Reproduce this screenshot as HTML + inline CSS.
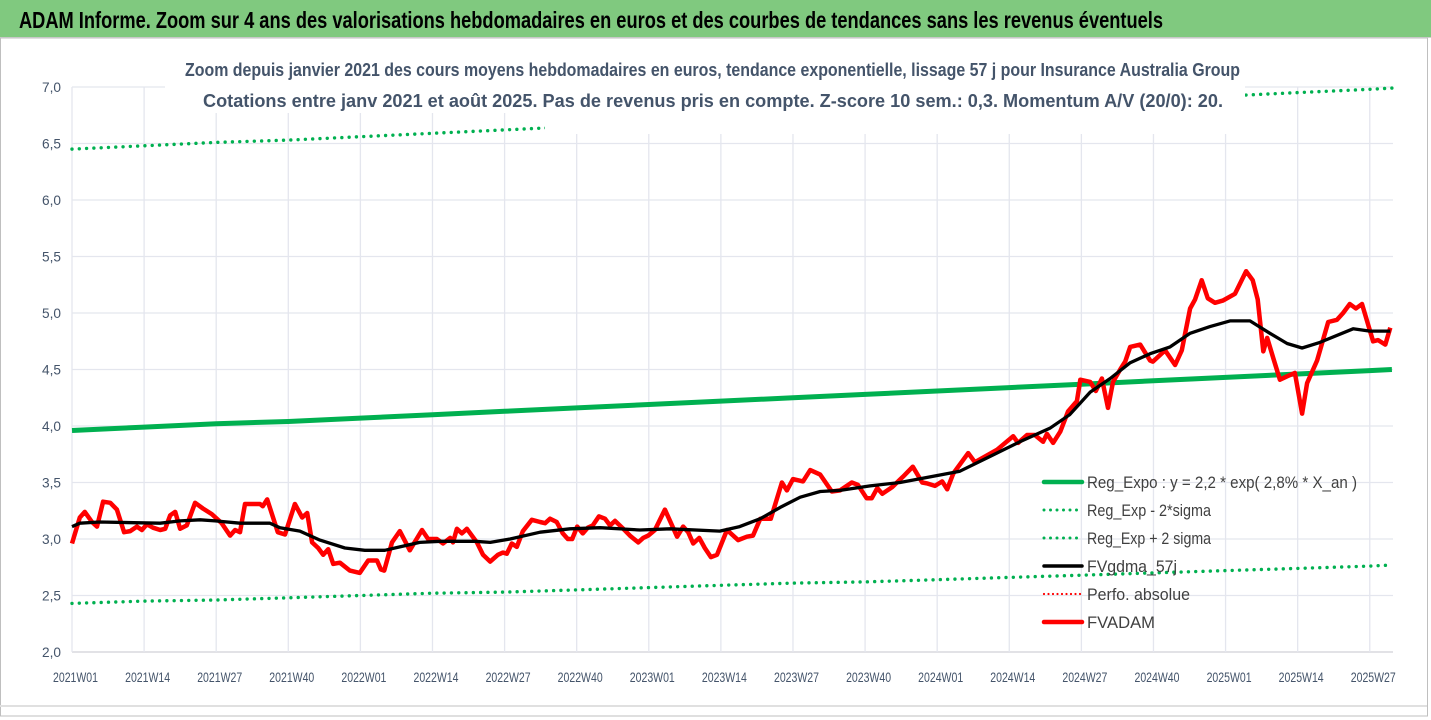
<!DOCTYPE html>
<html><head><meta charset="utf-8"><style>
body{margin:0;background:#fff;}
svg{display:block;font-family:"Liberation Sans",sans-serif;}
</style></head><body>
<svg id="c" width="1431" height="720" viewBox="0 0 1431 720">
<rect x="0" y="0" width="1431" height="720" fill="#fff"/>
<rect x="0" y="0" width="1431" height="37" fill="#80c97f"/>
<line x1="0" y1="37.5" x2="1431" y2="37.5" stroke="#d0d0d0"/>
<text x="19" y="28" font-weight="bold" font-size="23" fill="#000" textLength="1144" lengthAdjust="spacingAndGlyphs">ADAM Informe. Zoom sur 4 ans des valorisations hebdomadaires en euros et des courbes de tendances sans les revenus éventuels</text>
<rect x="0.5" y="38" width="1427" height="678" fill="none" stroke="#bfbfbf"/>
<line x1="0" y1="706" x2="1427" y2="706" stroke="#e0e0e0" stroke-width="2"/>
<g id="grid"></g>
<g id="yaxis"></g>
<g id="xaxis"></g>
<g id="series"></g>
<g id="titlebox">
<rect x="165" y="50" width="1080" height="63" fill="#fff"/>
<rect x="545" y="112" width="700" height="22" fill="#fff"/>
<text x="185" y="76" font-weight="bold" font-size="18" fill="#44546a" textLength="1055" lengthAdjust="spacingAndGlyphs">Zoom depuis janvier 2021 des cours moyens hebdomadaires en euros, tendance exponentielle, lissage 57 j pour Insurance Australia Group</text>
<text x="203" y="107" font-weight="bold" font-size="18" fill="#44546a" textLength="1020" lengthAdjust="spacingAndGlyphs">Cotations entre janv 2021 et août 2025. Pas de revenus pris en compte. Z-score 10 sem.: 0,3. Momentum A/V (20/0): 20.</text>
</g>
<g id="series2"></g>
<g id="legend"></g>
</svg>
<script>
const tickWeeks=[0,13,26,39,52,65,78,91,104,117,130,143,156,169,182,195,208,221,234];
const tickLabels=["2021W01","2021W14","2021W27","2021W40","2022W01","2022W14","2022W27","2022W40","2023W01","2023W14","2023W27","2023W40","2024W01","2024W14","2024W27","2024W40","2025W01","2025W14","2025W27"];
const yTicks=[2.0,2.5,3.0,3.5,4.0,4.5,5.0,5.5,6.0,6.5,7.0];
const trendWeeks=[0,13,26,39,52,65,78,91,104,117,130,143,156,169,182,195,208,221,234,238];
const regValues=[3.96,3.99,4.02,4.04,4.07,4.10,4.13,4.16,4.19,4.22,4.25,4.28,4.31,4.34,4.37,4.40,4.43,4.46,4.49,4.50];
const lowerValues=[2.43,2.45,2.46,2.48,2.50,2.52,2.53,2.55,2.57,2.59,2.61,2.62,2.64,2.66,2.68,2.70,2.72,2.74,2.76,2.77];
const upperValues=[6.45,6.48,6.51,6.53,6.56,6.59,6.62,6.65,6.68,6.71,6.74,6.77,6.80,6.83,6.86,6.89,6.92,6.95,6.98,6.99];
const priceWeeks=[0,1.4,2.3,3.6,4.5,5.6,6.9,8.1,9.4,10.5,11.7,12.6,13.5,14.6,15.9,16.8,17.7,18.6,19.5,20.7,22.2,23.6,25.2,27,28.5,29.4,30.3,31.2,33.9,34.4,35.2,37.1,38.4,40.2,41.5,42.4,43.3,44.4,45.3,46.2,47.1,48.3,50.1,51.9,53.4,55,55.7,56.3,57.7,59.1,60.9,63.1,64.2,65.8,66.9,68.2,68.7,69.4,70.3,71.2,73,74.1,75.4,76.8,77.7,78.4,79.3,80.2,81.3,82.9,84.4,85.3,86.2,87.4,88.5,89.4,90.2,91.1,92.1,93,93.9,95,96.1,97,97.9,99.2,100.6,102.1,103,103.9,105.1,106.9,109.1,110.2,111.1,112,113.1,114.1,115.2,116.3,118.1,120.1,121.7,122.8,124.1,126,128,128.9,130,131.8,133.1,134.9,137,138.5,140.6,141.7,143.3,144.2,145.2,146.1,147.9,149.8,151.6,153.3,154.3,155.6,156.9,157.8,158.9,161.6,162.8,165,166.8,169.7,170.6,172.2,173.6,175.1,175.8,176.9,178.2,179.6,181.2,181.8,183.6,184.6,185.7,186.8,187.7,189,189.9,190.8,192.6,194.4,194.9,197.1,198.9,200.1,201.6,202.5,203.7,204.8,206.1,207.5,209.7,211.7,212.9,213.8,214.8,215.5,216.6,217.8,219.1,220.5,221.8,222.7,224.5,226.5,228.1,229.2,230.4,231.5,232.6,234.6,235.5,236.8,237.7];
const priceValues=[2.96,3.19,3.24,3.15,3.11,3.33,3.32,3.26,3.06,3.07,3.11,3.08,3.13,3.10,3.08,3.09,3.21,3.24,3.09,3.12,3.32,3.27,3.22,3.14,3.03,3.08,3.06,3.31,3.31,3.29,3.35,3.06,3.04,3.31,3.19,3.23,2.97,2.92,2.86,2.91,2.78,2.79,2.72,2.70,2.81,2.81,2.73,2.72,2.97,3.07,2.90,3.08,3.00,3.00,2.96,3.01,2.97,3.09,3.05,3.09,2.97,2.86,2.80,2.86,2.88,2.87,2.96,2.93,3.07,3.17,3.15,3.14,3.18,3.15,3.05,3.00,3.00,3.11,3.05,3.10,3.12,3.20,3.18,3.12,3.16,3.10,3.03,2.97,3.01,3.03,3.08,3.26,3.02,3.11,3.06,2.96,3.01,2.92,2.84,2.86,3.08,2.99,3.02,3.03,3.18,3.18,3.50,3.43,3.53,3.51,3.61,3.57,3.42,3.43,3.50,3.48,3.36,3.36,3.45,3.40,3.46,3.55,3.64,3.50,3.49,3.47,3.51,3.44,3.58,3.76,3.68,3.74,3.79,3.91,3.85,3.92,3.92,3.86,3.93,3.85,3.95,4.13,4.22,4.41,4.39,4.31,4.42,4.16,4.39,4.50,4.57,4.70,4.72,4.58,4.57,4.67,4.54,4.67,5.04,5.12,5.29,5.13,5.09,5.11,5.17,5.37,5.29,5.12,4.66,4.78,4.60,4.41,4.44,4.47,4.11,4.38,4.58,4.92,4.94,5.00,5.08,5.04,5.08,4.75,4.76,4.72,4.87];
const smoothWeeks=[0,1.4,5,15.9,19.5,23.1,25.8,30.3,35.7,37.5,41.1,44.7,49.2,52.8,56.4,59.1,62.7,66.4,72.7,75.4,79,84.4,89.8,95.2,102.4,107.8,116.8,120.4,124.1,127.7,131.3,134.9,138.5,143.9,149.3,154.7,160.1,165.5,170.9,176.3,179.9,183.6,187.2,190.8,194.4,198,201.6,205.2,208.8,212.4,216,219.1,221.8,225,231,234,237.7];
const smoothValues=[3.11,3.14,3.15,3.14,3.16,3.17,3.16,3.14,3.14,3.10,3.07,2.99,2.92,2.90,2.90,2.93,2.97,2.98,2.98,2.97,3.00,3.06,3.09,3.10,3.08,3.09,3.07,3.11,3.18,3.28,3.37,3.42,3.43,3.47,3.50,3.55,3.60,3.73,3.86,3.98,4.10,4.30,4.42,4.56,4.64,4.70,4.82,4.88,4.93,4.93,4.82,4.73,4.69,4.74,4.86,4.84,4.84];
const legendLabels=["Reg_Expo : y = 2,2 * exp( 2,8% *  X_an )","Reg_Exp - 2*sigma","Reg_Exp + 2 sigma","FVgdma_57j","Perfo. absolue","FVADAM"];
const legendWidths=[270,124,124,90,103,68];

const NS="http://www.w3.org/2000/svg";
const X0=72, PXW=5.546, Y0=652, PXV=113;
function xs(w){return X0+w*PXW;}
function ys(v){return Y0-(v-2)*PXV;}
function mk(tag,attrs,parent){const e=document.createElementNS(NS,tag);for(const k in attrs)e.setAttribute(k,attrs[k]);parent.appendChild(e);return e;}
const grid=document.getElementById('grid'),ya=document.getElementById('yaxis'),xa=document.getElementById('xaxis');
yTicks.forEach(v=>{
  const l=mk('line',{x1:X0,x2:1393,y1:ys(v),y2:ys(v),stroke:v===2?'#d0d0d8':'#e4e6ee','stroke-width':1.3},grid);
  
  
  const t=mk('text',{x:61,y:ys(v)+5,'text-anchor':'end','font-size':14,fill:'#44546a',textLength:19,lengthAdjust:'spacingAndGlyphs'},ya);
  t.textContent=v.toFixed(1).replace('.',',');
  
  
});
tickWeeks.forEach((w,i)=>{
  const l=mk('line',{x1:xs(w),x2:xs(w),y1:ys(7),y2:Y0,stroke:'#e4e6ee','stroke-width':1.3},grid);
  
  
  const t=mk('text',{x:xs(w)-19,y:682,'font-size':14,fill:'#44546a',textLength:45,lengthAdjust:'spacingAndGlyphs'},xa);
  t.textContent=tickLabels[i];
  
  
});
function pts(ws,vs){return ws.map((w,i)=>xs(w).toFixed(1)+','+ys(vs[i]).toFixed(1)).join(' ');}
const s=document.getElementById('series'),s2=document.getElementById('series2');
const dotted={fill:'none',stroke:'#00b050','stroke-width':3.4,'stroke-linecap':'round','stroke-dasharray':'0 7.3'};
let p=mk('polyline',Object.assign({points:pts(trendWeeks,upperValues)},dotted),s);


p=mk('polyline',Object.assign({points:pts(trendWeeks,lowerValues)},dotted),s2);


p=mk('polyline',{points:pts(trendWeeks,regValues),fill:'none',stroke:'#00b050','stroke-width':5},s2);


p=mk('polyline',{points:pts(priceWeeks,priceValues),fill:'none',stroke:'#ff0000','stroke-width':4.5,'stroke-linejoin':'round'},s2);


p=mk('polyline',{points:pts(smoothWeeks,smoothValues),fill:'none',stroke:'#000','stroke-width':3.3,'stroke-linejoin':'round'},s2);


const lg=document.getElementById('legend');
const styles=[
 {stroke:'#00b050','stroke-width':4.5},
 {stroke:'#00b050','stroke-width':3,'stroke-linecap':'round','stroke-dasharray':'0 6.5'},
 {stroke:'#00b050','stroke-width':3,'stroke-linecap':'round','stroke-dasharray':'0 6.5'},
 {stroke:'#000','stroke-width':3.5},
 {stroke:'#ff0000','stroke-width':2.2,'stroke-linecap':'round','stroke-dasharray':'0 4.5'},
 {stroke:'#ff0000','stroke-width':4.5}];
const ly=[482,510,538,566,594,622];
legendLabels.forEach((lab,i)=>{
  const g=mk('g',{},lg);
  
  
  mk('line',Object.assign({x1:1044,x2:1082,y1:ly[i],y2:ly[i],'stroke-linecap':'round'},styles[i]),g);
  const t=mk('text',{x:1087,y:ly[i]+6,'font-size':17,fill:'#404040',textLength:legendWidths[i],lengthAdjust:'spacingAndGlyphs'},g);
  t.textContent=lab;
});
</script>
</body></html>
